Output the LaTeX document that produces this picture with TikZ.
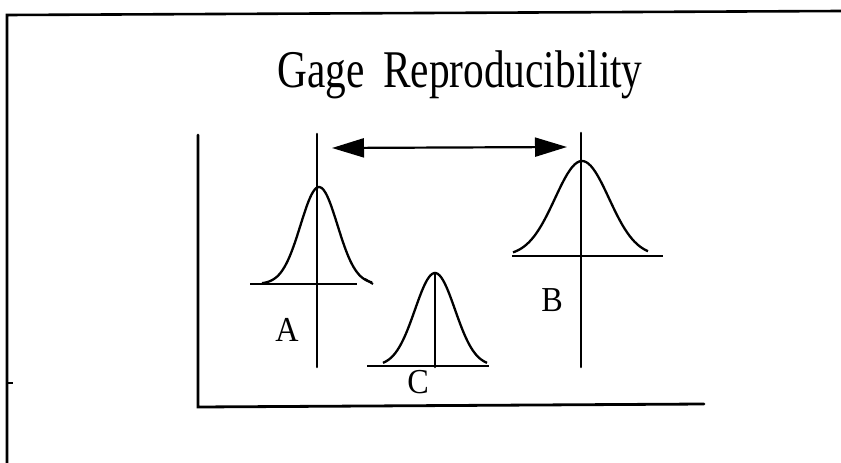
\documentclass[tikz,border=0pt]{standalone}
\usepackage{fontspec}
\setmainfont{Liberation Serif}
\usetikzlibrary{arrows.meta}
\begin{document}
\begin{tikzpicture}[x=1pt,y=-1pt,
  ink/.style={line width=2.6pt,black,line cap=round},
  thin ink/.style={line width=2.1pt,black},
  bell/.style={line width=2.3pt,black,smooth,samples=60},
  lbl/.style={font=\fontsize{35}{35}\selectfont,xscale=0.92,inner sep=0pt},
  dbl/.style={line width=2.2pt,{Triangle[length=32pt,width=19pt]}-{Triangle[length=32pt,width=19pt]}}]
\useasboundingbox (0,0) rectangle (841,463);
\fill[white] (0,0) rectangle (841,463);
% frame
\coordinate (ftl) at (7,15);
\coordinate (ftr) at (841,11);
\coordinate (fbl) at (7,463);
\coordinate (tick) at (13,383);
\draw[ink] (fbl) -- (ftl) -- (ftr);
\draw[thin ink] (7,383) -- (tick);
% title
\node[font=\fontsize{53}{53}\selectfont,xscale=0.78,inner sep=0pt,anchor=base] (title) at (460,87) {Gage\hspace{0.45em}Reproducibility};
% axes
\coordinate (ytop) at (198,135);
\coordinate (orig) at (198,407);
\coordinate (xend) at (704,404);
\draw[ink,line width=2.8pt] (ytop) -- (orig) -- (xend);
% A
\coordinate (Atop) at (317,134);
\coordinate (Abot) at (317,367);
\draw[ink] (Atop) -- (Abot);
\draw[thin ink] (250,284) -- (357,284);
\draw[bell] plot[domain=-57:53] ({319+\x},{284-97*exp(-(\x)^2/(2*18.5*18.5))});
\draw[thin ink] (365,279) -- (373,284);
\node[lbl] (A) at (287,330) {A};
% B
\coordinate (Btop) at (581,133);
\coordinate (Bbot) at (581,367);
\draw[ink] (Btop) -- (Bbot);
\draw[thin ink] (512,256) -- (663,256);
\draw[bell] plot[domain=-69:66] ({582+\x},{256-95*exp(-(\x)^2/(2*27*27))});
\node[lbl] (B) at (552,300) {B};
% C
\coordinate (Ctop) at (435,273);
\coordinate (Cbot) at (435,367);
\draw[ink] (Ctop) -- (Cbot);
\draw[thin ink] (367,366) -- (489,366);
\draw[bell] plot[domain=-52:52] ({435+\x},{366-93*exp(-(\x)^2/(2*20*20))});
\node[lbl] (C) at (418,382) {C};
% arrow
\coordinate (arL) at (332,148);
\coordinate (arR) at (567,147);
\draw[dbl] (arL) -- (arR);
\end{tikzpicture}
\end{document}
